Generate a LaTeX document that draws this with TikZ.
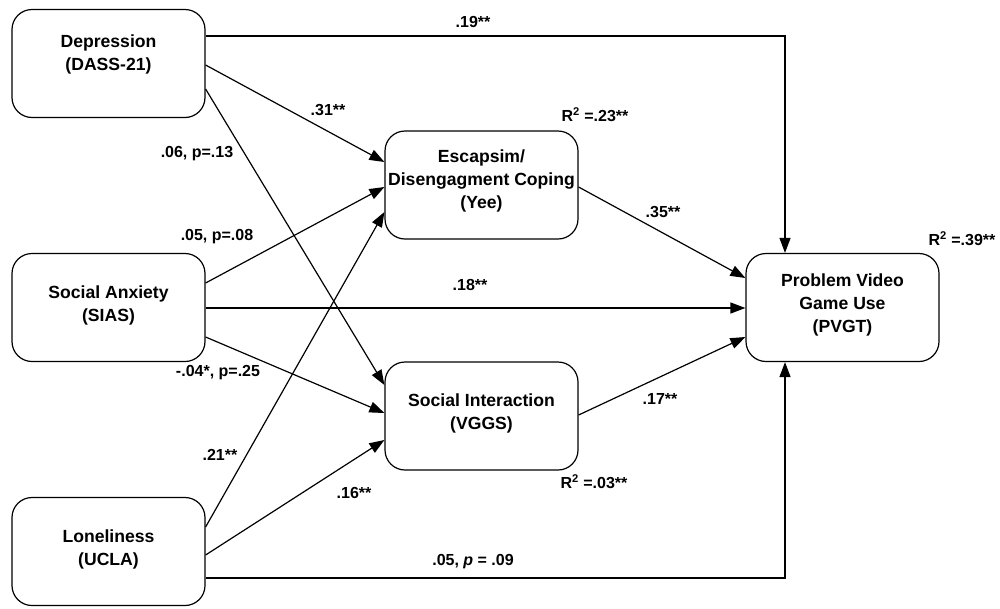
\documentclass[tikz,border=0pt]{standalone}
\usepackage{fontspec}
\setmainfont{Liberation Sans}
\usetikzlibrary{arrows.meta}
\tikzset{
  box/.style={draw=black, line width=1.2pt, rounded corners=20pt, minimum width=193pt, minimum height=108pt, inner sep=0pt},
  boxtext/.style={align=center, inner sep=0pt, font=\fontsize{17.6}{23}\selectfont\bfseries},
  elabel/.style={inner sep=0pt, font=\fontsize{16}{19}\selectfont\bfseries},
  arr/.style={draw=black, line width=1.2pt, -{Triangle[length=15pt,width=11pt]}},
  ln/.style={draw=black, line width=1.2pt}
}
\begin{document}
\begin{tikzpicture}[x=1pt,y=-1pt]
\useasboundingbox (0,0) rectangle (1000,608);
% boxes
\node[box] (dep) at (108.5,63.5) {};
\node[box] (sa)  at (108.5,307.5) {};
\node[box] (lon) at (108.5,551.5) {};
\node[box] (esc) at (481.5,185) {};
\node[box] (si)  at (481.5,416) {};
\node[box] (pv)  at (842.5,307.5) {};
% box texts
\node[boxtext] (dep-t) at (108.5,54) {Depression\\(DASS-21)};
\node[boxtext] (sa-t)  at (108.5,305) {Social Anxiety\\(SIAS)};
\node[boxtext] (lon-t) at (108.5,549) {Loneliness\\(UCLA)};
\node[boxtext] (esc-t) at (481.5,181) {Escapsim/\\Disengagment Coping\\(Yee)};
\node[boxtext] (si-t)  at (481.5,413) {Social Interaction\\(VGGS)};
\node[boxtext] (pv-t)  at (842.5,305) {Problem Video\\Game Use\\(PVGT)};
% connectors
\draw[arr] ([yshift=27.5pt]dep.east) -| ([xshift=-57.5pt]pv.north);
\draw[arr] ([yshift=-1.5pt]dep.east) -- ([yshift=23pt]esc.west);
\draw[arr] ([yshift=-25.5pt]dep.east) -- ([yshift=31pt]si.west);
\draw[arr] ([yshift=24.5pt]sa.east) -- ([yshift=-2pt]esc.west);
\draw[arr] ([yshift=-0.5pt]sa.east) -- ([yshift=-0.5pt]pv.west);
\draw[arr] ([yshift=-29.5pt]sa.east) -- ([yshift=3pt]si.west);
\draw[arr] ([yshift=24.5pt]lon.east) -- ([yshift=-27pt]esc.west);
\draw[arr] ([yshift=-3.5pt]lon.east) -- ([yshift=-24pt]si.west);
\draw[arr] ([yshift=-26.5pt]lon.east) -| ([xshift=-57.5pt]pv.south);
\draw[arr] ([yshift=-2pt]esc.east) -- ([yshift=29.5pt]pv.west);
\draw[arr] ([yshift=1pt]si.east) -- ([yshift=-29.5pt]pv.west);
% edge labels
\node[elabel] (l1) at (473,22) {.19**};
\node[elabel] (l2) at (328,110) {.31**};
\node[elabel] (l3) at (197,154) {.06, p=.13};
\node[elabel] (l4) at (217,237) {.05, p=.08};
\node[elabel] (l5) at (470,285) {.18**};
\node[elabel] (l6) at (218,373) {-.04*, p=.25};
\node[elabel] (l7) at (220,455) {.21**};
\node[elabel] (l8) at (354,493) {.16**};
\node[elabel] (l9) at (473,562) {.05, \textit{p} = .09};
\node[elabel] (l10) at (663,212) {.35**};
\node[elabel] (l11) at (660,399) {.17**};
% R squared
\node[elabel] (r1) at (595,115) {R\textsuperscript{2} =.23**};
\node[elabel] (r2) at (962,239) {R\textsuperscript{2} =.39**};
\node[elabel] (r3) at (594,482) {R\textsuperscript{2} =.03**};
\end{tikzpicture}
\end{document}
